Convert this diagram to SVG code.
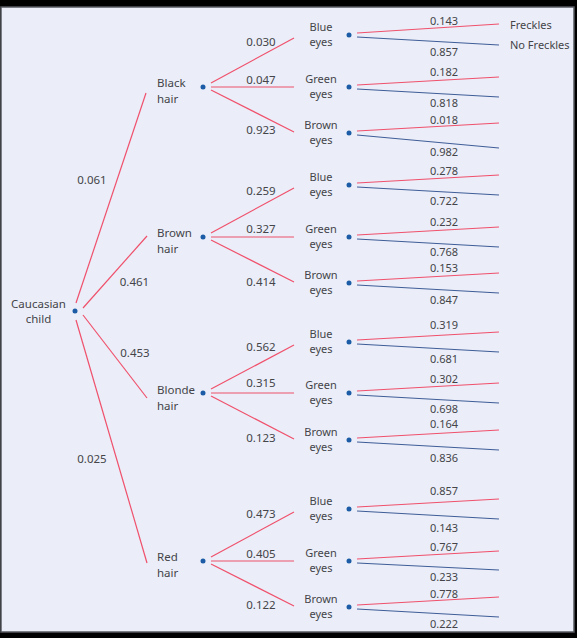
<svg xmlns="http://www.w3.org/2000/svg" width="577" height="638" viewBox="0 0 577 638">
<style>
text{font-family:"Noto Sans","Open Sans","DejaVu Sans",sans-serif;font-size:11px;fill:#444449}
.m{text-anchor:middle}
.p{font-size:11.5px}
.r{stroke:#f0506c;stroke-width:1.2;fill:none}
.b{stroke:#3f5d98;stroke-width:1.2;fill:none}
.d{fill:#1c5ca6}
</style>
<rect x="0" y="0" width="577" height="638" fill="#000"/>
<rect x="1" y="7" width="573" height="625" fill="#ebeef8" stroke="#55585f" stroke-width="1.5"/>

<g id="connectors">
  <line class="r" x1="76" y1="303" x2="146" y2="93"/>
  <line class="r" x1="83" y1="308" x2="147" y2="236"/>
  <line class="r" x1="83" y1="315" x2="147" y2="398"/>
  <line class="r" x1="76" y1="320" x2="147" y2="563"/>
  <!-- hair to eyes -->
  <line class="r" x1="211" y1="83" x2="294" y2="38"/>
  <line class="r" x1="211" y1="87" x2="294" y2="87"/>
  <line class="r" x1="211" y1="90" x2="294" y2="132"/>
  <line class="r" x1="211" y1="233" x2="294" y2="188"/>
  <line class="r" x1="211" y1="237" x2="294" y2="237"/>
  <line class="r" x1="211" y1="240" x2="294" y2="282"/>
  <line class="r" x1="211" y1="389" x2="294" y2="345"/>
  <line class="r" x1="211" y1="393" x2="294" y2="393"/>
  <line class="r" x1="211" y1="396" x2="294" y2="439"/>
  <line class="r" x1="211" y1="557" x2="294" y2="512"/>
  <line class="r" x1="211" y1="561" x2="294" y2="561"/>
  <line class="r" x1="211" y1="564" x2="294" y2="606"/>
  <!-- eyes to freckles -->
  <line class="r" x1="357" y1="33" x2="499" y2="24"/>
  <line class="b" x1="357" y1="37" x2="499" y2="45"/>
  <line class="r" x1="357" y1="85" x2="499" y2="77"/>
  <line class="b" x1="357" y1="89" x2="499" y2="97"/>
  <line class="r" x1="357" y1="131" x2="499" y2="123"/>
  <line class="b" x1="357" y1="135" x2="499" y2="148"/>
  <line class="r" x1="357" y1="183" x2="499" y2="175"/>
  <line class="b" x1="357" y1="187" x2="499" y2="195"/>
  <line class="r" x1="357" y1="235" x2="499" y2="227"/>
  <line class="b" x1="357" y1="239" x2="499" y2="247"/>
  <line class="r" x1="357" y1="281" x2="499" y2="273"/>
  <line class="b" x1="357" y1="285" x2="499" y2="293"/>
  <line class="r" x1="357" y1="340" x2="499" y2="332"/>
  <line class="b" x1="357" y1="344" x2="499" y2="352"/>
  <line class="r" x1="357" y1="391" x2="499" y2="383"/>
  <line class="b" x1="357" y1="395" x2="499" y2="403"/>
  <line class="r" x1="357" y1="438" x2="499" y2="430"/>
  <line class="b" x1="357" y1="442" x2="499" y2="450"/>
  <line class="r" x1="357" y1="507" x2="499" y2="499"/>
  <line class="b" x1="357" y1="511" x2="499" y2="519"/>
  <line class="r" x1="357" y1="559" x2="499" y2="551"/>
  <line class="b" x1="357" y1="563" x2="499" y2="570"/>
  <line class="r" x1="357" y1="605" x2="499" y2="597"/>
  <line class="b" x1="357" y1="609" x2="499" y2="617"/>
  <!-- probabilities -->
  <text class="m p" x="92" y="184">0.061</text>
  <text class="m p" x="134.5" y="286">0.461</text>
  <text class="m p" x="135" y="357">0.453</text>
  <text class="m p" x="92" y="463">0.025</text>
  <text class="m p" x="261" y="46">0.030</text>
  <text class="m p" x="261" y="84">0.047</text>
  <text class="m p" x="261" y="134">0.923</text>
  <text class="m p" x="261" y="195">0.259</text>
  <text class="m p" x="261" y="233">0.327</text>
  <text class="m p" x="261" y="286">0.414</text>
  <text class="m p" x="261" y="351">0.562</text>
  <text class="m p" x="261" y="387">0.315</text>
  <text class="m p" x="261" y="442">0.123</text>
  <text class="m p" x="261" y="518">0.473</text>
  <text class="m p" x="261" y="558">0.405</text>
  <text class="m p" x="261" y="609">0.122</text>
  <text class="m" x="444" y="25">0.143</text>
  <text class="m" x="444" y="56">0.857</text>
  <text class="m" x="444" y="76">0.182</text>
  <text class="m" x="444" y="107">0.818</text>
  <text class="m" x="444" y="124">0.018</text>
  <text class="m" x="444" y="156">0.982</text>
  <text class="m" x="444" y="175">0.278</text>
  <text class="m" x="444" y="205">0.722</text>
  <text class="m" x="444" y="226">0.232</text>
  <text class="m" x="444" y="256">0.768</text>
  <text class="m" x="444" y="272">0.153</text>
  <text class="m" x="444" y="304">0.847</text>
  <text class="m" x="444" y="329">0.319</text>
  <text class="m" x="444" y="363">0.681</text>
  <text class="m" x="444" y="383">0.302</text>
  <text class="m" x="444" y="413">0.698</text>
  <text class="m" x="444" y="428">0.164</text>
  <text class="m" x="444" y="462">0.836</text>
  <text class="m" x="444" y="495">0.857</text>
  <text class="m" x="444" y="532">0.143</text>
  <text class="m" x="444" y="551">0.767</text>
  <text class="m" x="444" y="581">0.233</text>
  <text class="m" x="444" y="598">0.778</text>
  <text class="m" x="444" y="628">0.222</text>
</g>

<g id="root">
  <text class="m p" x="38.5" y="308">Caucasian</text>
  <text class="m p" x="38.5" y="323">child</text>
  <circle class="d" cx="75" cy="311" r="2.5"/>
</g>

<g id="black-hair">
  <text class="p" x="157" y="87">Black</text><text class="p" x="157" y="103">hair</text>
  <circle class="d" cx="203" cy="87" r="2.5"/>
</g>
<g id="brown-hair">
  <text class="p" x="157" y="237">Brown</text><text class="p" x="157" y="253">hair</text>
  <circle class="d" cx="203" cy="237" r="2.5"/>
</g>
<g id="blonde-hair">
  <text class="p" x="157" y="394">Blonde</text><text class="p" x="157" y="410">hair</text>
  <circle class="d" cx="203" cy="393" r="2.5"/>
</g>
<g id="red-hair">
  <text class="p" x="157" y="561">Red</text><text class="p" x="157" y="577">hair</text>
  <circle class="d" cx="203" cy="561" r="2.5"/>
</g>

<g id="black-blue"><text class="m" x="321" y="31">Blue</text><text class="m" x="321" y="46">eyes</text><circle class="d" cx="349" cy="35" r="2.5"/></g>
<g id="black-green"><text class="m" x="321" y="83">Green</text><text class="m" x="321" y="98">eyes</text><circle class="d" cx="349" cy="87" r="2.5"/></g>
<g id="black-brown"><text class="m" x="321" y="129">Brown</text><text class="m" x="321" y="144">eyes</text><circle class="d" cx="349" cy="133" r="2.5"/></g>

<g id="brown-blue"><text class="m" x="321" y="181">Blue</text><text class="m" x="321" y="196">eyes</text><circle class="d" cx="349" cy="185" r="2.5"/></g>
<g id="brown-green"><text class="m" x="321" y="233">Green</text><text class="m" x="321" y="248">eyes</text><circle class="d" cx="349" cy="237" r="2.5"/></g>
<g id="brown-brown"><text class="m" x="321" y="279">Brown</text><text class="m" x="321" y="294">eyes</text><circle class="d" cx="349" cy="283" r="2.5"/></g>

<g id="blonde-blue"><text class="m" x="321" y="338">Blue</text><text class="m" x="321" y="353">eyes</text><circle class="d" cx="349" cy="342" r="2.5"/></g>
<g id="blonde-green"><text class="m" x="321" y="389">Green</text><text class="m" x="321" y="404">eyes</text><circle class="d" cx="349" cy="393" r="2.5"/></g>
<g id="blonde-brown"><text class="m" x="321" y="436">Brown</text><text class="m" x="321" y="451">eyes</text><circle class="d" cx="349" cy="440" r="2.5"/></g>

<g id="red-blue"><text class="m" x="321" y="505">Blue</text><text class="m" x="321" y="520">eyes</text><circle class="d" cx="349" cy="509" r="2.5"/></g>
<g id="red-green"><text class="m" x="321" y="557">Green</text><text class="m" x="321" y="572">eyes</text><circle class="d" cx="349" cy="561" r="2.5"/></g>
<g id="red-brown"><text class="m" x="321" y="603">Brown</text><text class="m" x="321" y="618">eyes</text><circle class="d" cx="349" cy="607" r="2.5"/></g>

<g id="freckles"><text x="510" y="29">Freckles</text></g>
<g id="no-freckles"><text x="510" y="49">No Freckles</text></g>
</svg>
